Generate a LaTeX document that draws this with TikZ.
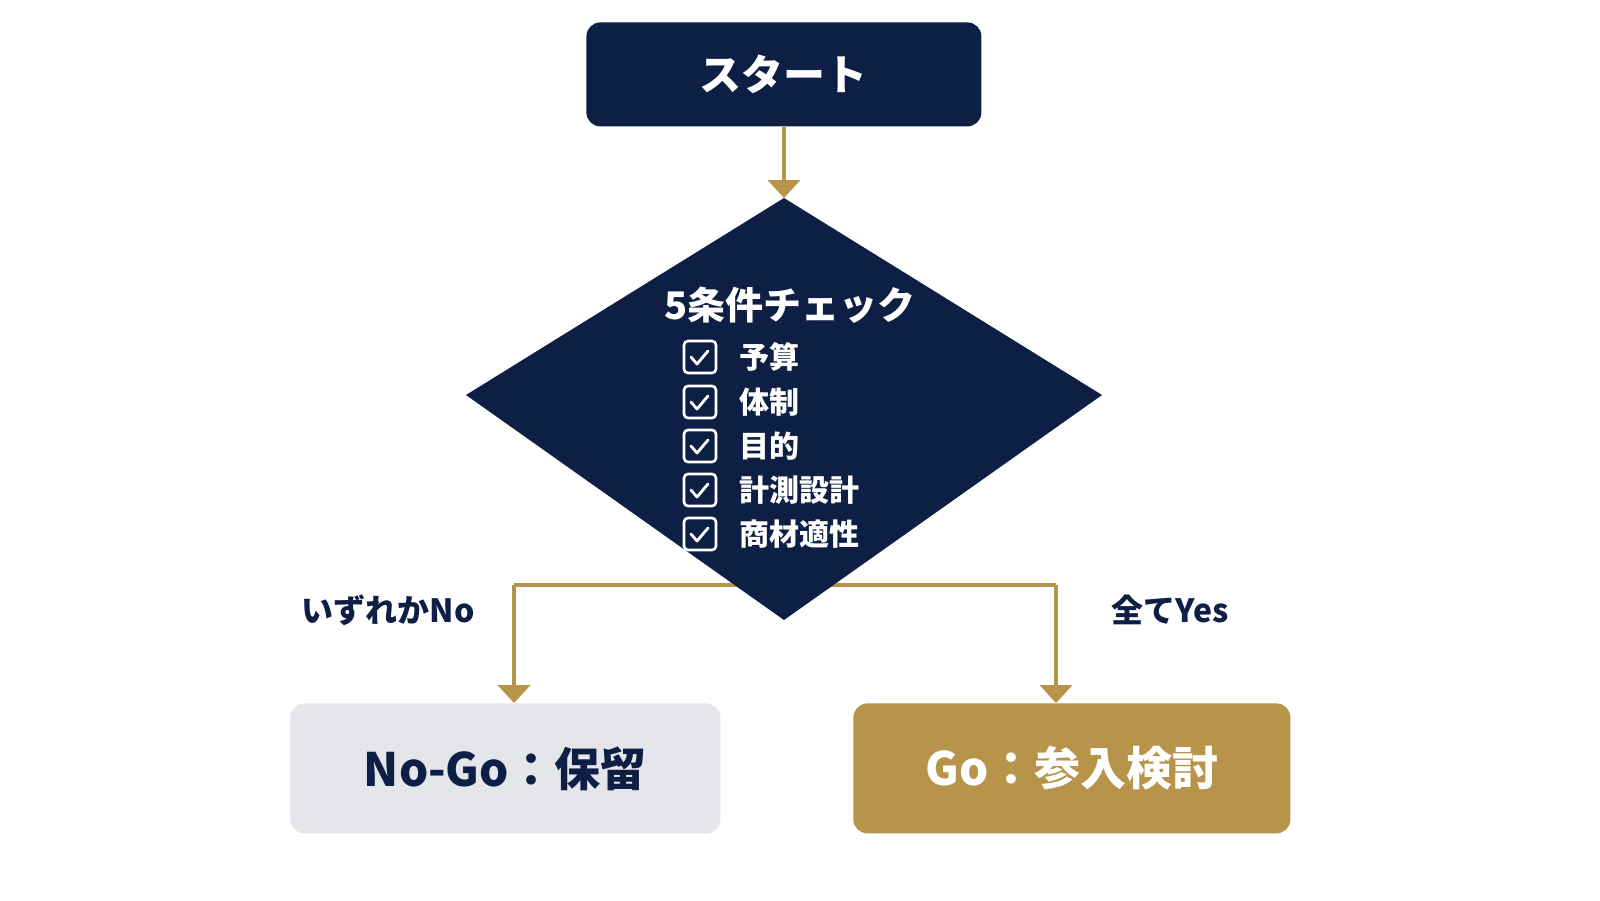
\documentclass[tikz,border=0pt]{standalone}
\usepackage{fontspec}
\setmainfont{Noto Sans CJK JP}
\usetikzlibrary{arrows.meta}
\definecolor{navy}{HTML}{0D1F45}
\definecolor{gold}{HTML}{B8944A}
\definecolor{lgray}{HTML}{E5E6EA}
\begin{document}
\begin{tikzpicture}[x=0.5pt,y=-0.5pt,
  conn/.style={draw=gold,line width=2.2pt,-{Triangle[length=9pt,width=16pt]}},
  boxst/.style={rounded corners=7pt,inner sep=0pt,anchor=north west},
  lab/.style={text=navy,font=\bfseries\fontsize{16}{18}\selectfont},
  item/.style={text=white,anchor=west,font=\bfseries\fontsize{15}{17}\selectfont},
  cbox/.style={draw=white,line width=1.3pt,rounded corners=2pt,minimum size=16pt,inner sep=0pt}]
\useasboundingbox (0,0) rectangle (1600,900);
\fill[white] (0,0) rectangle (1600,900);
% boxes
\node[boxst,fill=navy,minimum width=197.5pt,minimum height=52pt] (start) at (586,22) {};
\node[text=white,font=\bfseries\fontsize{21}{24}\selectfont] at (start.center) {スタート};
\node[boxst,fill=lgray,minimum width=215pt,minimum height=65pt] (nogo) at (290,703) {};
\node[text=navy,font=\bfseries\fontsize{23}{26}\selectfont] at (nogo.center) {No-Go：保留};
\node[boxst,fill=gold,minimum width=218.5pt,minimum height=65pt] (go) at (853,703) {};
\node[text=white,font=\bfseries\fontsize{23}{26}\selectfont] at (go.center) {Go：参入検討};
% connectors
\coordinate (dtop) at (784,198);
\coordinate (split) at (784,585);
\coordinate (nl) at (514,585);
\coordinate (nr) at (1056,585);
\draw[conn] (start.south -| dtop) -- (dtop);
\draw[draw=gold,line width=2.2pt] (nl) -- (nr);
\draw[conn] (nl) -- (nl |- nogo.north);
\draw[conn] (nr) -- (nr |- go.north);
% diamond
\fill[navy] (466,395) -- (784,198) -- (1102,395) -- (784,620) -- cycle;
\node[text=white,font=\bfseries\fontsize{19}{22}\selectfont] (title) at (790,305) {5条件チェック};
\foreach \y/\t in {357/予算,402/体制,446/目的,490/計測設計,534/商材適性}{
  \node[cbox] at (700,\y) {};
  \draw[white,line width=1.4pt,line cap=round,line join=round] (691,\y) -- ++(6,7) -- ++(11,-13);
  \node[item] at (732,\y) {\t};
}
\node[lab] (nolab) at (388,610) {いずれかNo};
\node[lab] (yeslab) at (1170,610) {全てYes};
\end{tikzpicture}
\end{document}
